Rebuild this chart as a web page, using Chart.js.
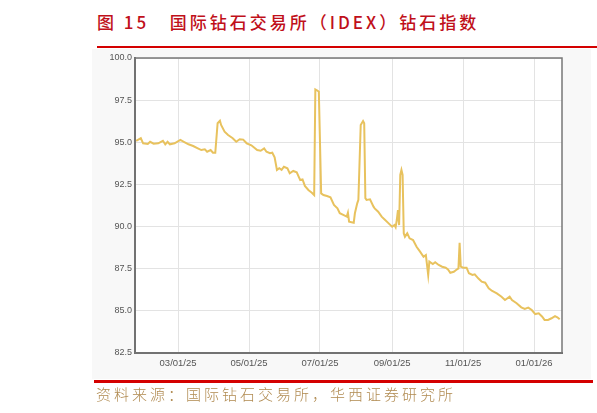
<!DOCTYPE html>
<html>
<head>
<meta charset="utf-8">
<script src="https://cdn.jsdelivr.net/npm/chart.js@4/dist/chart.umd.min.js"></script>
<style>
  html, body { margin: 0; padding: 0; background: #fff; }
  #wrap { position: relative; width: 597px; height: 413px; overflow: hidden; }
  #title {
    position: absolute; left: 97px; top: 9px;
    font-family: "Noto Sans CJK SC", sans-serif; font-size: 17px; font-weight: 500; color: #c0101a;
    letter-spacing: 3px; white-space: nowrap;
  }
  #topline { position: absolute; left: 97px; top: 46px; width: 500px; height: 2px; background: #d40000; }
  #panel { position: absolute; left: 92px; top: 49px; width: 499px; height: 330px; background: #f8f8f8; }
  #botline { position: absolute; left: 94px; top: 380px; width: 499px; height: 3px; background: #d40000; }
  #source {
    position: absolute; left: 96px; top: 383px;
    font-family: "Noto Sans CJK SC", sans-serif; font-weight: 300; font-size: 15px; color: #b08a50;
    letter-spacing: 3px; white-space: nowrap;
  }
  #c { position: absolute; left: 0; top: 0; }
</style>
</head>
<body>
<div id="wrap">
  <div id="title">图 15&nbsp;&nbsp;&nbsp;国际钻石交易所（IDEX）钻石指数</div>
  <div id="topline"></div>
  <div id="panel"></div>
  <canvas id="c" width="597" height="413"></canvas>
  <div id="botline"></div>
  <div id="source">资料来源：国际钻石交易所，华西证券研究所</div>
</div>
<script>
// 날짜는 2025-01-01 기준 경과일수
var days = [23, 27, 29, 33, 35, 38, 42, 46, 48, 50, 52, 56, 61, 64, 68, 72, 76, 79, 82, 84,
    87, 89, 91, 93, 95, 96, 99, 102, 106, 109, 112, 115, 118, 122, 127, 130, 133, 135, 138, 140,
    142, 144, 146, 148, 150, 153, 155, 158, 161, 164, 166, 168, 171, 174, 176, 177, 179, 180, 182, 184,
    187, 190, 193, 196, 198, 201, 204, 205, 206, 210, 211, 213, 214, 216, 218, 219, 220, 221, 224, 227,
    228, 231, 234, 237, 240, 243, 245, 246, 247, 248, 249, 250, 251, 252, 253, 254, 256, 258, 261, 264,
    267, 270, 272, 274, 275, 278, 280, 283, 286, 289, 291, 293, 296, 298, 300, 301, 302, 304, 307, 309,
    312, 314, 317, 320, 323, 326, 329, 333, 337, 340, 344, 346, 350, 354, 357, 360, 363, 366, 369, 372,
    374, 377, 380, 383, 385, 387];
// IDEX 钻石指数
var idex = [95.09, 95.24, 94.94, 94.90, 95.03, 94.92, 94.94, 95.09, 94.88, 95.03, 94.88, 94.94, 95.14, 95.03, 94.88, 94.78, 94.64, 94.54, 94.58, 94.44,
    94.54, 94.38, 94.38, 96.13, 96.28, 96.03, 95.63, 95.43, 95.24, 95.03, 95.18, 95.16, 94.94, 94.82, 94.54, 94.50, 94.64, 94.44, 94.35, 94.38,
    94.11, 93.36, 93.46, 93.36, 93.55, 93.46, 93.16, 93.30, 93.22, 92.76, 92.80, 92.41, 92.17, 92.01, 91.87, 98.14, 98.06, 98.00, 91.97, 91.87,
    91.81, 91.73, 91.28, 91.08, 90.79, 90.69, 90.59, 90.82, 90.29, 90.23, 90.79, 91.38, 91.58, 96.03, 96.26, 96.13, 91.68, 91.58, 91.62, 91.18,
    91.08, 90.88, 90.59, 90.39, 90.19, 89.99, 90.09, 89.96, 90.39, 90.98, 90.09, 93.06, 93.36, 93.06, 89.60, 89.40, 89.60, 89.30, 89.20, 88.80,
    88.51, 88.21, 88.31, 87.13, 87.92, 87.78, 87.88, 87.72, 87.62, 87.56, 87.46, 87.26, 87.32, 87.42, 87.52, 89.04, 87.62, 87.56, 87.56, 87.23,
    87.13, 87.17, 86.93, 86.73, 86.67, 86.34, 86.18, 86.04, 85.84, 85.64, 85.84, 85.64, 85.45, 85.21, 85.11, 85.19, 85.05, 84.81, 84.85, 84.65,
    84.46, 84.46, 84.56, 84.69, 84.62, 84.50];

// x축 눈금 (월초)
var tickDays = [59, 120, 181, 243, 304, 365];
var tickLabels = ['03/01/25', '05/01/25', '07/01/25', '09/01/25', '11/01/25', '01/01/26'];

var points = days.map(function (d, i) { return { x: d, y: idex[i] }; });

// 차트 영역 흰 배경 + 테두리
var frame = {
    id: 'frame',
    beforeDraw: function (chart) {
        var a = chart.chartArea, ctx = chart.ctx;
        ctx.save();
        ctx.fillStyle = '#fff';
        ctx.fillRect(a.left, a.top, a.right - a.left, a.bottom - a.top);
        ctx.restore();
    },
    afterDraw: function (chart) {
        var a = chart.chartArea, ctx = chart.ctx;
        ctx.save();
        ctx.strokeStyle = '#777';
        ctx.lineWidth = 1.5;
        ctx.strokeRect(a.left, a.top, a.right - a.left, a.bottom - a.top);
        ctx.restore();
    }
};

var idexChart = new Chart(document.getElementById('c'), {
    type: 'line',
    data: {
        datasets: [{
            data: points,
            borderColor: '#e8c25e',
            borderWidth: 2,
            pointRadius: 0,
            tension: 0,
            fill: false
        }]
    },
    options: {
        responsive: false,
        animation: false,
        layout: { padding: { left: 95, top: 58, right: 35, bottom: 38 } },
        plugins: { legend: { display: false }, tooltip: { enabled: false } },
        scales: {
            x: {
                type: 'linear',
                min: 22,
                max: 389,
                afterBuildTicks: function (scale) {
                    scale.ticks = tickDays.map(function (v) { return { value: v }; });
                },
                afterFit: function (scale) { scale.height = 22; },
                grid: { color: '#e3e3e3', drawTicks: false },
                border: { color: '#666', width: 2 },
                ticks: {
                    padding: 5,
                    color: '#555',
                    font: { family: 'Liberation Sans', size: 9.5 },
                    maxRotation: 0,
                    autoSkip: false,
                    callback: function (v) {
                        var k = tickDays.indexOf(v);
                        return k >= 0 ? tickLabels[k] : '';
                    }
                }
            },
            y: {
                min: 82.5,
                max: 100,
                afterFit: function (scale) { scale.width = 40; },
                grid: { color: '#e3e3e3', drawTicks: false },
                border: { color: '#666', width: 2 },
                ticks: {
                    stepSize: 2.5,
                    padding: 3,
                    color: '#555',
                    font: { family: 'Liberation Sans', size: 9 },
                    callback: function (v) { return v.toFixed(1); }
                }
            }
        }
    },
    plugins: [frame]
});
</script>
</body>
</html>
